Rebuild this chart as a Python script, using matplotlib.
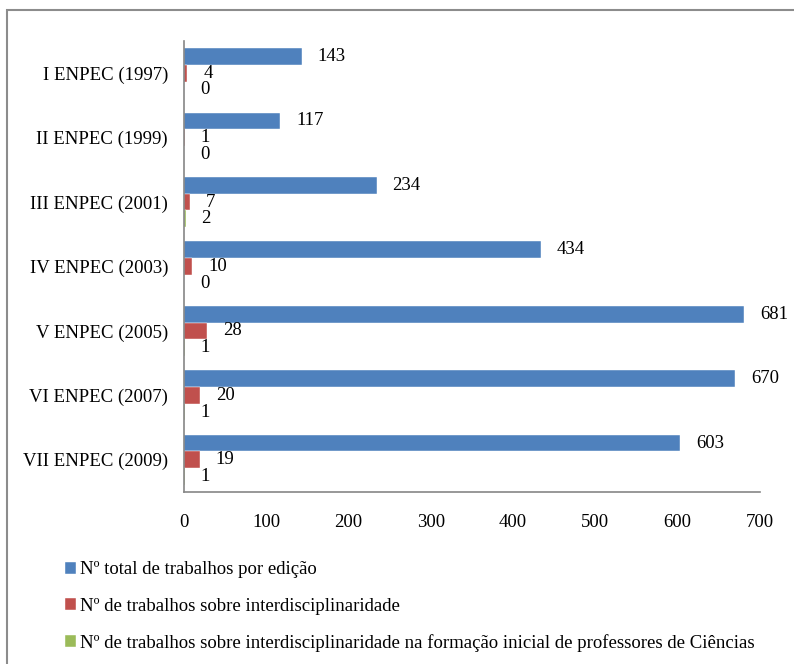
import numpy as np
import matplotlib
matplotlib.use("Agg")
import matplotlib.pyplot as plt
from matplotlib.patches import Rectangle

categories = ["I ENPEC (1997)", "II ENPEC (1999)", "III ENPEC (2001)", "IV ENPEC (2003)",
              "V ENPEC (2005)", "VI ENPEC (2007)", "VII ENPEC (2009)"]
total = [143, 117, 234, 434, 681, 670, 603]
interdisc = [4, 1, 7, 10, 28, 20, 19]
formacao = [0, 0, 2, 0, 1, 1, 1]
series_names = ["Nº total de trabalhos por edição",
                "Nº de trabalhos sobre interdisciplinaridade",
                "Nº de trabalhos sobre interdisciplinaridade na formação inicial de professores de Ciências"]
colors = ["#4F81BD", "#C0504D", "#9BBB59"]
xticks = [0, 100, 200, 300, 400, 500, 600, 700]

plt.rcParams['font.family'] = ['Liberation Serif', 'DejaVu Serif']
fs = 13.5

fig = plt.figure(figsize=(7.94, 6.64), dpi=100)
ax = fig.add_axes([184 / 794, 1 - 492 / 664, 576 / 794, 451 / 664])

# outer chart frame (only top and left visible in the crop)
fig.patches.append(Rectangle((7 / 794, -0.05), 1.2, 1 - 10 / 664 + 0.05,
                             transform=fig.transFigure, fill=False,
                             edgecolor="#8c8c8c", linewidth=1.5))

y = np.arange(len(categories))
w = 0.26
handles = []
for i, (vals, c) in enumerate(zip([total, interdisc, formacao], colors)):
    bars = ax.barh(y + (i - 1) * w, vals, height=w, color=c, edgecolor="white", linewidth=0.3)
    handles.append(bars)
    for yy, v in zip(y + (i - 1) * w, vals):
        ax.annotate(str(v), (v, yy), xytext=(11.5, 0), textcoords="offset points",
                    ha="left", va="center", fontsize=fs)

ax.set_xlim(0, 700)
ax.set_ylim(len(categories) - 0.5, -0.5)
ax.set_xticks(xticks)
ax.set_yticks(y)
ax.set_yticklabels(categories)
ax.tick_params(axis="both", length=0, labelsize=fs)
ax.tick_params(axis="x", pad=16)
ax.tick_params(axis="y", pad=11.5)
for s in ["top", "right"]:
    ax.spines[s].set_visible(False)
for s in ["left", "bottom"]:
    ax.spines[s].set_color("#868686")
    ax.spines[s].set_linewidth(1.2)

fig.legend(handles, series_names, loc="upper left", bbox_to_anchor=(57 / 794, 1 - 554 / 664),
           frameon=False, fontsize=fs, handlelength=0.6, handleheight=0.6,
           handletextpad=0.25, labelspacing=1.02, borderaxespad=0)

fig.savefig("out.png", dpi=100)
